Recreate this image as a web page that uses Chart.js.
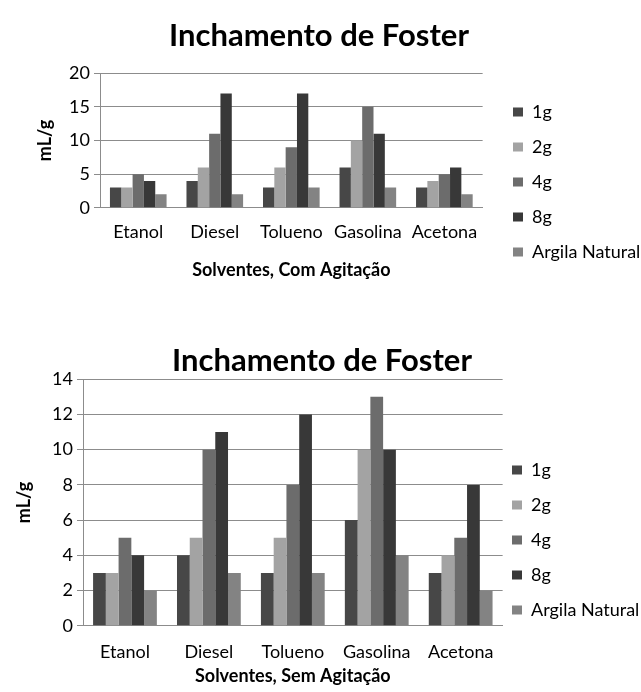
<!DOCTYPE html>
<html>
<head>
<meta charset="utf-8">
<script src="https://cdn.jsdelivr.net/npm/chart.js@4.4.0/dist/chart.umd.min.js"></script>
<style>
  html, body { margin: 0; padding: 0; background: #fff; }
  body { width: 641px; height: 692px; position: relative; overflow: hidden; }
  .box { position: absolute; left: 0; width: 641px; }
  #c1box { top: 0; height: 292px; }
  #c2box { top: 328px; height: 364px; }
</style>
</head>
<body>
<div class="box" id="c1box"><canvas id="c1"></canvas></div>
<div class="box" id="c2box"><canvas id="c2"></canvas></div>
<script>
const categories = ["Etanol", "Diesel", "Tolueno", "Gasolina", "Acetona"];
const seriesNames = ["1g", "2g", "4g", "8g", "Argila Natural"];

// Com Agitação (top chart)
const comAgit_1g = [3, 4, 3, 6, 3];
const comAgit_2g = [3, 6, 6, 10, 4];
const comAgit_4g = [5, 11, 9, 15, 5];
const comAgit_8g = [4, 17, 17, 11, 6];
const comAgit_argila = [2, 2, 3, 3, 2];

// Sem Agitação (bottom chart)
const semAgit_1g = [3, 4, 3, 6, 3];
const semAgit_2g = [3, 5, 5, 10, 4];
const semAgit_4g = [5, 10, 8, 13, 5];
const semAgit_8g = [4, 11, 12, 10, 8];
const semAgit_argila = [2, 3, 3, 4, 2];

const topTicks = [0, 5, 10, 15, 20];
const bottomTicks = [0, 2, 4, 6, 8, 10, 12, 14];

const colors = ["#474747", "#a3a3a3", "#6c6c6c", "#383838", "#838383"];
const FONT = "Lato, 'Open Sans', sans-serif";
const LEG_PAD = 17;

// places the legend column and centres the title where the reference has them
const blockPlacer = {
  id: 'blockPlacer',
  afterLayout(chart, args, opts) {
    const lg = chart.legend;
    if (lg) {
      const h = lg.bottom - lg.top;
      lg.left = opts.x - LEG_PAD;
      lg.right = lg.left + lg.width;
      lg.top = opts.y - LEG_PAD;
      lg.bottom = lg.top + h;
    }
    const tb = chart.titleBlock;
    if (tb) {
      tb.left = 0;
      tb.right = 2 * opts.titleCenter;
      tb.width = tb.right - tb.left;
    }
  }
};

function makeDatasets(arrs, catPct) {
  return arrs.map((d, i) => ({
    label: seriesNames[i],
    data: d,
    backgroundColor: colors[i],
    borderWidth: 0,
    barPercentage: 1.0,
    categoryPercentage: catPct
  }));
}

function makeChart(id, arrs, cfg) {
  return new Chart(document.getElementById(id), {
    type: 'bar',
    data: { labels: categories, datasets: makeDatasets(arrs, cfg.catPct) },
    plugins: [blockPlacer],
    options: {
      responsive: true,
      maintainAspectRatio: false,
      animation: false,
      layout: { padding: cfg.padding },
      plugins: {
        blockPlacer: cfg.place,
        title: {
          display: true,
          text: "Inchamento de Foster",
          color: "#000",
          font: { family: FONT, size: 31, weight: 'bold' },
          padding: cfg.titlePad
        },
        legend: {
          position: 'right',
          align: 'start',
          labels: {
            color: "#000",
            font: { family: FONT, size: 18 },
            boxWidth: 10,
            boxHeight: 9,
            padding: LEG_PAD
          }
        },
        tooltip: { enabled: false }
      },
      scales: {
        x: {
          grid: { display: false, drawTicks: false },
          border: { display: true, color: "#8c8c8c", width: 1 },
          ticks: { color: "#000", font: { family: FONT, size: 18 }, padding: cfg.xTickPad, maxRotation: 0, autoSkip: false },
          title: {
            display: true,
            text: cfg.xTitle,
            color: "#000",
            font: { family: FONT, size: 18, weight: 'bold' },
            padding: cfg.xTitlePad
          }
        },
        y: {
          min: 0,
          max: cfg.ticks[cfg.ticks.length - 1],
          afterBuildTicks: (axis) => { axis.ticks = cfg.ticks.map(v => ({ value: v })); },
          grid: { color: "#8c8c8c", lineWidth: 1, tickLength: 6 },
          border: { display: true, color: "#8c8c8c", width: 1 },
          ticks: { color: "#000", font: { family: FONT, size: 18 }, padding: 4 },
          title: {
            display: true,
            text: "mL/g",
            color: "#000",
            font: { family: FONT, size: 18, weight: 'bold' },
            padding: cfg.yTitlePad
          },
          afterFit: (axis) => { axis.width = cfg.yWidth; }
        }
      }
    }
  });
}

makeChart('c1',
  [comAgit_1g, comAgit_2g, comAgit_4g, comAgit_8g, comAgit_argila],
  {
    catPct: 0.74,
    ticks: topTicks,
    xTitle: "Solventes, Com Agitação",
    padding: { left: 0, right: 4, top: 0, bottom: 11 },
    titlePad: { top: 17, bottom: 19 },
    xTickPad: 14,
    xTitlePad: { top: 2, bottom: 0 },
    yTitlePad: { top: 34, bottom: 0 },
    yWidth: 100,
    place: { x: 513, y: 103, titleCenter: 319 }
  });

makeChart('c2',
  [semAgit_1g, semAgit_2g, semAgit_4g, semAgit_8g, semAgit_argila],
  {
    catPct: 0.76,
    ticks: bottomTicks,
    xTitle: "Solventes, Sem Agitação",
    padding: { left: 0, right: -16, top: 0, bottom: 5 },
    titlePad: { top: 14, bottom: 0 },
    xTickPad: 16,
    xTitlePad: { top: -14, bottom: 0 },
    yTitlePad: { top: 13, bottom: 0 },
    yWidth: 83,
    place: { x: 512, y: 133, titleCenter: 322 }
  });
</script>
</body>
</html>
